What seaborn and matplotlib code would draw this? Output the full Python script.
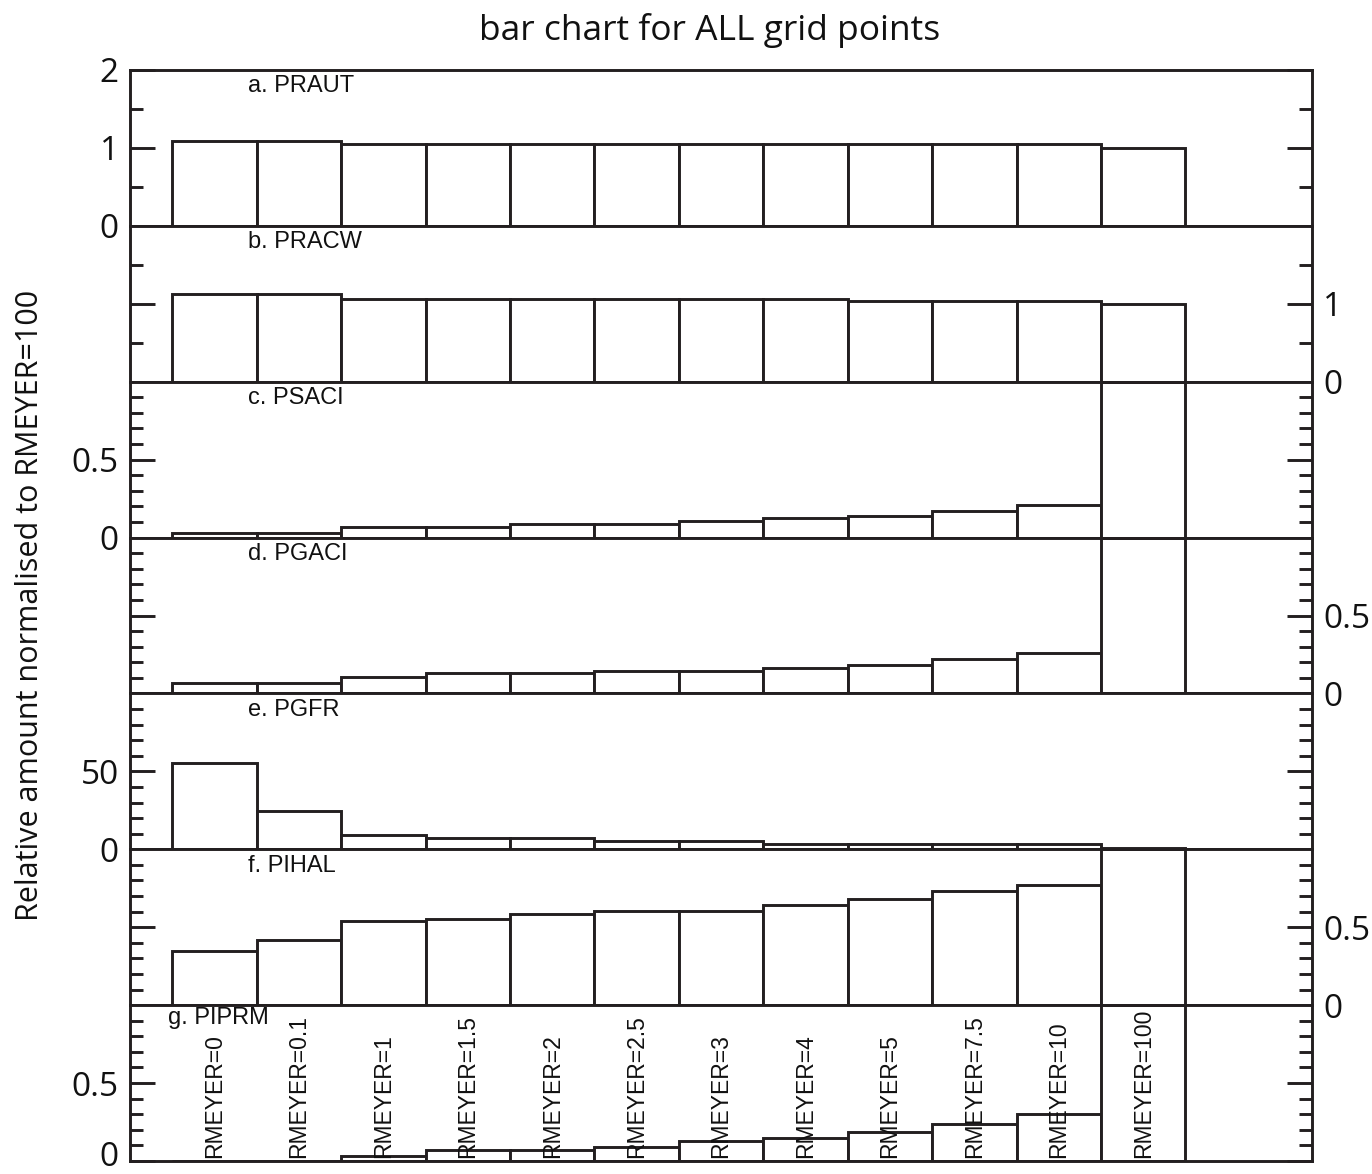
import matplotlib
matplotlib.use("Agg")
import matplotlib.pyplot as plt
import matplotlib.transforms as mtransforms
from matplotlib.ticker import FixedLocator, FuncFormatter
import numpy as np
import pandas as pd
import seaborn as sns

# Experiments (one bar per RMEYER setting)
runs = ["RMEYER=0", "RMEYER=0.1", "RMEYER=1", "RMEYER=1.5", "RMEYER=2", "RMEYER=2.5",
        "RMEYER=3", "RMEYER=4", "RMEYER=5", "RMEYER=7.5", "RMEYER=10", "RMEYER=100"]

# Process rates, relative to the RMEYER=100 run
praut = [1.09, 1.09, 1.05, 1.05, 1.05, 1.05, 1.05, 1.05, 1.05, 1.05, 1.05, 1.00]
pracw = [1.12, 1.12, 1.065, 1.065, 1.065, 1.065, 1.065, 1.065, 1.03, 1.03, 1.03, 1.00]
psaci = [0.030, 0.030, 0.069, 0.069, 0.090, 0.090, 0.106, 0.125, 0.141, 0.172, 0.210, 1.00]
pgaci = [0.065, 0.065, 0.108, 0.130, 0.130, 0.146, 0.146, 0.163, 0.180, 0.218, 0.257, 1.00]
pgfr = [55.4, 24.8, 9.2, 7.4, 7.4, 5.4, 5.4, 3.4, 3.4, 3.4, 3.4, 1.0]
pihal = [0.350, 0.420, 0.540, 0.553, 0.585, 0.607, 0.607, 0.643, 0.680, 0.733, 0.771, 1.00]
piprm = [0.0, 0.0, 0.032, 0.070, 0.070, 0.090, 0.130, 0.147, 0.184, 0.238, 0.300, 1.00]

panel_names = ["a. PRAUT", "b. PRACW", "c. PSACI", "d. PGACI", "e. PGFR", "f. PIHAL", "g. PIPRM"]
panel_values = [praut, pracw, psaci, pgaci, pgfr, pihal, piprm]

title = "bar chart for ALL grid points"
ylabel = "Relative amount normalised to RMEYER=100"

INK = "#231f20"
TICK_FONT = ["Open Sans", "DejaVu Sans"]
LABEL_FONT = ["Liberation Sans", "DejaVu Sans"]

sns.set_style("ticks")
plt.rcParams["font.family"] = TICK_FONT

# per panel: y-limits, major ticks, minor ticks, side carrying tick labels
fine = list(np.round(np.arange(0.1, 1.0, 0.1), 2))
axis_specs = [
    dict(ylim=(0, 2), major=[0, 1, 2], minor=[0.5, 1.5], side="left"),
    dict(ylim=(0, 2), major=[0, 1], minor=[0.5, 1.5], side="right"),
    dict(ylim=(0, 1), major=[0, 0.5], minor=fine, side="left"),
    dict(ylim=(0, 1), major=[0, 0.5], minor=fine, side="right"),
    dict(ylim=(0, 100), major=[0, 50], minor=list(range(10, 100, 10)), side="left"),
    dict(ylim=(0, 1), major=[0, 0.5], minor=fine, side="right"),
    dict(ylim=(0, 1), major=[0, 0.5], minor=fine, side="left"),
]

fig, axes = plt.subplots(7, 1, figsize=(13.72, 11.74), dpi=100)
fig.subplots_adjust(left=130 / 1372, right=1312 / 1372,
                    top=1 - 70 / 1174, bottom=1 - 1161 / 1174, hspace=0)

for i, (ax, name, vals, spec) in enumerate(zip(axes, panel_names, panel_values, axis_specs)):
    df = pd.DataFrame({"run": runs, "value": vals})
    sns.barplot(data=df, x="run", y="value", order=runs, ax=ax, color="white",
                saturation=1, edgecolor=INK, linewidth=2.1, width=1.0, errorbar=None)
    ax.set_xlim(-1, 13)
    ax.set_ylim(*spec["ylim"])
    ax.set_xlabel("")
    ax.set_ylabel("")
    ax.tick_params(axis="x", which="both", bottom=False, top=False,
                   labelbottom=False, labeltop=False)
    ax.yaxis.set_major_locator(FixedLocator(spec["major"]))
    ax.yaxis.set_minor_locator(FixedLocator(spec["minor"]))
    ax.yaxis.set_major_formatter(FuncFormatter(lambda v, _: f"{v:g}"))
    left_side = spec["side"] == "left"
    ax.tick_params(axis="y", which="both", direction="in", left=True, right=True,
                   labelleft=left_side, labelright=not left_side, width=2.1,
                   color=INK, labelsize=24, pad=8, labelcolor="#111111")
    ax.tick_params(axis="y", which="major", length=18)
    ax.tick_params(axis="y", which="minor", length=9.5)
    for sp in ax.spines.values():
        sp.set_visible(True)
        sp.set_linewidth(2.1)
        sp.set_color(INK)

    trans = mtransforms.blended_transform_factory(ax.transData, ax.transAxes)
    if i < 6:
        ax.text(0.4, 0.895, name, transform=trans, ha="left", va="center",
                fontsize=17, family=LABEL_FONT, color="#111111")
    else:
        ax.text(-0.55, 0.915, name, transform=trans, ha="left", va="center",
                fontsize=17, family=LABEL_FONT, color="#111111")

# run names written upright inside the lowest panel
trans_g = mtransforms.blended_transform_factory(axes[-1].transData, axes[-1].transAxes)
for pos, run in enumerate(runs):
    axes[-1].text(pos, 0.02, run, transform=trans_g, rotation=90, ha="center",
                  va="bottom", fontsize=16.5, family=LABEL_FONT, color="#111111")

# lift the lowest "0" so it stays inside the canvas
bottom_tick = axes[-1].yaxis.get_major_ticks()[0]
bottom_tick.label1.set_transform(bottom_tick.label1.get_transform()
                                 + mtransforms.ScaledTranslation(0, 8 / 100, fig.dpi_scale_trans))

fig.text(0.5175, 0.9744, title, ha="center", va="center", fontsize=25.5,
         family=TICK_FONT, color="#111111")
fig.text(0.022, 0.4847, ylabel, rotation=90, ha="center", va="center",
         fontsize=22, family=TICK_FONT, color="#111111")

fig.savefig("out.png", dpi=100)
